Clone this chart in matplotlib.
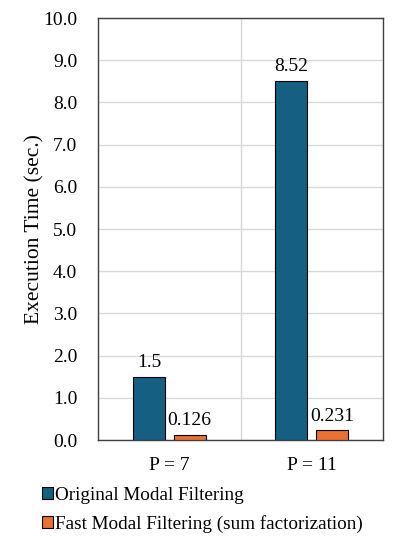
import numpy as np
import matplotlib.pyplot as plt
from matplotlib.ticker import FormatStrFormatter, MultipleLocator

plt.rcParams['font.family'] = ['Liberation Serif', 'DejaVu Serif']

categories = ["P = 7", "P = 11"]
original = [1.5, 8.52]
fast = [0.126, 0.231]
original_labels = ["1.5", "8.52"]
fast_labels = ["0.126", "0.231"]

fig = plt.figure(figsize=(3.99, 5.48), dpi=100)
ax = fig.add_axes([0.2456, 0.197, 0.7144, 0.770])

x = np.arange(len(categories))
w = 0.224
off = 0.143
b1 = ax.bar(x - off, original, w, color="#156082", edgecolor="black", linewidth=0.8,
            label="Original Modal Filtering", zorder=3)
b2 = ax.bar(x + off, fast, w, color="#E97132", edgecolor="black", linewidth=0.8,
            label="Fast Modal Filtering (sum factorization)", zorder=3)
ax.bar_label(b1, labels=original_labels, padding=4, fontsize=14)
ax.bar_label(b2, labels=fast_labels, padding=4, fontsize=14)

ax.set_xlim(-0.5, 1.5)
ax.set_ylim(0, 10)
ax.set_xticks(x)
ax.set_xticklabels(categories, fontsize=14)
ax.set_xticks([0.5], minor=True)
ax.yaxis.set_major_locator(MultipleLocator(1))
ax.yaxis.set_major_formatter(FormatStrFormatter("%.1f"))
ax.tick_params(axis="y", labelsize=14, length=0, pad=15)
ax.tick_params(axis="x", which="both", length=0, pad=12)
ax.grid(axis="y", color="#d9d9d9", linewidth=1, zorder=0)
ax.grid(axis="x", which="minor", color="#d9d9d9", linewidth=1, zorder=0)
for s in ax.spines.values():
    s.set_color("#404040")
    s.set_linewidth(1)
ax.set_ylabel("Execution Time (sec.)", fontsize=15.5, labelpad=-1)

fig.legend(loc="upper left", bbox_to_anchor=(0.085, 0.125), frameon=False, fontsize=13.8,
           handlelength=0.6, handleheight=0.6, handletextpad=0.12, labelspacing=0.55,
           borderaxespad=0)

fig.savefig("out.png", dpi=100)
